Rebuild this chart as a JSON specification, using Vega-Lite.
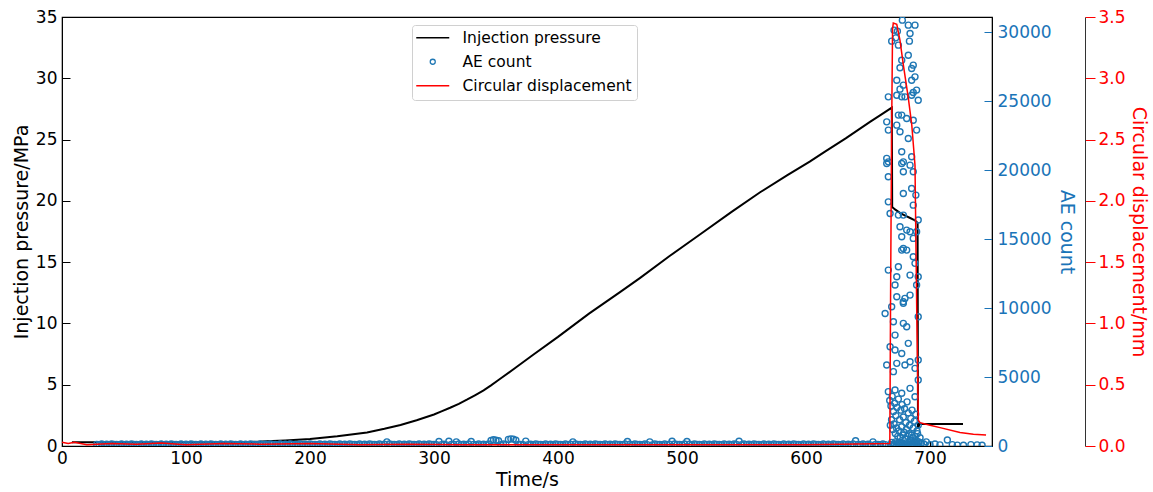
{
"$schema": "https://vega.github.io/schema/vega-lite/v6.json",
"width": 930, "height": 429,
"autosize": {"type": "none"},
"padding": {"left": 62, "top": 17, "right": 161, "bottom": 46},
"background": "white",
"config": {"font": "DejaVu Sans", "view": {"stroke": "black", "strokeWidth": 1.2}, "axis": {"grid": false, "labelFont": "DejaVu Sans", "titleFont": "DejaVu Sans", "titleFontWeight": "normal", "labelFlush": false, "labelOverlap": false}},
"datasets": {
"pressure": [{"t":8,"p":0.3},{"t":30,"p":0.3},{"t":60,"p":0.3},{"t":100,"p":0.31},{"t":130,"p":0.31},{"t":152,"p":0.32},{"t":165,"p":0.38},{"t":180,"p":0.45},{"t":200,"p":0.57},{"t":222,"p":0.8},{"t":246,"p":1.11},{"t":260,"p":1.4},{"t":273,"p":1.71},{"t":286,"p":2.1},{"t":300,"p":2.57},{"t":306,"p":2.82},{"t":313,"p":3.12},{"t":320,"p":3.44},{"t":326.5,"p":3.78},{"t":333,"p":4.14},{"t":340,"p":4.54},{"t":346,"p":4.95},{"t":352,"p":5.38},{"t":366,"p":6.4},{"t":380,"p":7.45},{"t":400,"p":8.9},{"t":425,"p":10.8},{"t":450,"p":12.55},{"t":466,"p":13.7},{"t":490,"p":15.5},{"t":515,"p":17.3},{"t":540,"p":19.1},{"t":563,"p":20.7},{"t":585,"p":22.1},{"t":603,"p":23.2},{"t":615,"p":24.0},{"t":632,"p":25.1},{"t":651.6,"p":26.45},{"t":660,"p":27.0},{"t":669.2,"p":27.6},{"t":669.5,"p":19.5},{"t":671.8,"p":19.3},{"t":676,"p":19.0},{"t":680,"p":18.8},{"t":684,"p":18.6},{"t":688,"p":18.4},{"t":690,"p":18.2},{"t":690.3,"p":1.4},{"t":691.5,"p":1.8},{"t":700,"p":1.8},{"t":726.6,"p":1.8}],
"disp": [{"t":0,"d":0.03},{"t":5,"d":0.02},{"t":10,"d":0.03},{"t":20,"d":0.01},{"t":40,"d":0.02},{"t":60,"d":0.015},{"t":80,"d":0.025},{"t":100,"d":0.01},{"t":130,"d":0.02},{"t":160,"d":0.015},{"t":200,"d":0.02},{"t":240,"d":0.01},{"t":280,"d":0.015},{"t":320,"d":0.01},{"t":400,"d":0.01},{"t":500,"d":0.01},{"t":600,"d":0.01},{"t":667.6,"d":0.02},{"t":668.2,"d":1.2},{"t":669.0,"d":2.5},{"t":669.8,"d":3.4},{"t":670.4,"d":3.45},{"t":673.2,"d":3.44},{"t":675.8,"d":3.31},{"t":678.5,"d":3.11},{"t":682.5,"d":2.84},{"t":685.3,"d":2.62},{"t":687.9,"d":2.29},{"t":689.3,"d":1.11},{"t":690.6,"d":0.21},{"t":691.9,"d":0.19},{"t":700,"d":0.17},{"t":708.1,"d":0.15},{"t":724.2,"d":0.11},{"t":735,"d":0.095},{"t":745.2,"d":0.09}],
"ae": [
{"t":28,"c":120},{"t":30,"c":90},{"t":32,"c":150},{"t":34,"c":100},{"t":36,"c":130},{"t":38,"c":80},{"t":40,"c":140},{"t":42,"c":110},{"t":44,"c":120},{"t":46,"c":90},{"t":48,"c":150},{"t":50,"c":100},{"t":52,"c":130},{"t":54,"c":80},{"t":56,"c":140},{"t":58,"c":110},{"t":60,"c":120},{"t":62,"c":90},{"t":64,"c":150},{"t":66,"c":100},{"t":68,"c":130},{"t":70,"c":80},{"t":72,"c":140},{"t":74,"c":110},{"t":76,"c":120},{"t":78,"c":90},{"t":80,"c":150},{"t":82,"c":100},{"t":84,"c":130},{"t":86,"c":80},{"t":88,"c":140},{"t":90,"c":110},{"t":92,"c":120},{"t":94,"c":90},{"t":96,"c":150},{"t":98,"c":100},{"t":100,"c":130},{"t":102,"c":80},{"t":104,"c":140},{"t":106,"c":110},{"t":108,"c":120},{"t":110,"c":90},{"t":112,"c":150},{"t":114,"c":100},{"t":116,"c":130},{"t":118,"c":80},{"t":120,"c":140},{"t":122,"c":110},{"t":124,"c":120},{"t":126,"c":90},{"t":128,"c":150},{"t":130,"c":100},{"t":132,"c":130},{"t":134,"c":80},{"t":136,"c":140},{"t":138,"c":110},{"t":140,"c":120},{"t":142,"c":90},{"t":144,"c":150},{"t":146,"c":100},{"t":148,"c":130},{"t":150,"c":80},{"t":152,"c":140},{"t":154,"c":110},{"t":156,"c":120},{"t":158,"c":90},{"t":160,"c":150},{"t":162,"c":100},{"t":164,"c":130},{"t":166,"c":80},{"t":168,"c":140},{"t":170,"c":110},{"t":172,"c":120},{"t":174,"c":90},{"t":176,"c":150},{"t":178,"c":100},{"t":180,"c":130},{"t":182,"c":80},{"t":184,"c":140},{"t":186,"c":110},{"t":188,"c":120},{"t":190,"c":90},{"t":192,"c":150},{"t":194,"c":100},{"t":196,"c":130},{"t":198,"c":80},{"t":200,"c":140},{"t":202,"c":110},{"t":204,"c":120},{"t":206,"c":90},{"t":208,"c":150},{"t":210,"c":100},{"t":212,"c":130},{"t":214,"c":80},{"t":216,"c":140},{"t":218,"c":110},{"t":220,"c":120},{"t":222,"c":90},{"t":224,"c":150},{"t":226,"c":100},{"t":228,"c":130},{"t":230,"c":80},{"t":232,"c":140},{"t":234,"c":110},{"t":236,"c":120},{"t":238,"c":90},{"t":240,"c":150},{"t":242,"c":100},{"t":244,"c":130},{"t":246,"c":80},{"t":248,"c":140},{"t":250,"c":110},{"t":252,"c":120},{"t":254,"c":90},{"t":256,"c":150},{"t":258,"c":100},{"t":260,"c":130},{"t":262,"c":300},{"t":264,"c":140},{"t":266,"c":110},{"t":268,"c":120},{"t":270,"c":90},{"t":272,"c":150},{"t":274,"c":100},{"t":276,"c":130},{"t":278,"c":80},{"t":280,"c":140},{"t":282,"c":110},{"t":284,"c":120},{"t":286,"c":90},{"t":288,"c":150},{"t":290,"c":100},{"t":292,"c":130},{"t":294,"c":80},{"t":296,"c":140},{"t":298,"c":110},{"t":300,"c":120},{"t":302,"c":90},{"t":304,"c":330},{"t":306,"c":100},{"t":308,"c":130},{"t":310,"c":80},{"t":312,"c":340},{"t":314,"c":110},{"t":316,"c":120},{"t":318,"c":300},{"t":320,"c":150},{"t":322,"c":100},{"t":324,"c":130},{"t":326,"c":80},{"t":328,"c":140},{"t":330,"c":330},{"t":332,"c":120},{"t":334,"c":90},{"t":336,"c":150},{"t":338,"c":100},{"t":340,"c":130},{"t":342,"c":80},{"t":344,"c":140},{"t":346,"c":400},{"t":348,"c":450},{"t":350,"c":420},{"t":352,"c":380},{"t":354,"c":90},{"t":356,"c":150},{"t":358,"c":100},{"t":360,"c":480},{"t":362,"c":520},{"t":364,"c":500},{"t":366,"c":420},{"t":368,"c":110},{"t":370,"c":120},{"t":372,"c":90},{"t":374,"c":350},{"t":376,"c":100},{"t":378,"c":130},{"t":380,"c":80},{"t":382,"c":140},{"t":384,"c":110},{"t":386,"c":120},{"t":388,"c":90},{"t":390,"c":150},{"t":392,"c":100},{"t":394,"c":130},{"t":396,"c":80},{"t":398,"c":140},{"t":400,"c":110},{"t":402,"c":120},{"t":404,"c":90},{"t":406,"c":150},{"t":408,"c":100},{"t":410,"c":130},{"t":412,"c":300},{"t":414,"c":140},{"t":416,"c":110},{"t":418,"c":120},{"t":420,"c":90},{"t":422,"c":150},{"t":424,"c":100},{"t":426,"c":130},{"t":428,"c":80},{"t":430,"c":140},{"t":432,"c":110},{"t":434,"c":120},{"t":436,"c":90},{"t":438,"c":150},{"t":440,"c":100},{"t":442,"c":130},{"t":444,"c":80},{"t":446,"c":140},{"t":448,"c":110},{"t":450,"c":120},{"t":452,"c":90},{"t":454,"c":150},{"t":456,"c":330},{"t":458,"c":130},{"t":460,"c":80},{"t":462,"c":140},{"t":464,"c":110},{"t":466,"c":120},{"t":468,"c":90},{"t":470,"c":150},{"t":472,"c":100},{"t":474,"c":300},{"t":476,"c":80},{"t":478,"c":140},{"t":480,"c":110},{"t":482,"c":120},{"t":484,"c":90},{"t":486,"c":150},{"t":488,"c":100},{"t":490,"c":130},{"t":492,"c":340},{"t":494,"c":140},{"t":496,"c":110},{"t":498,"c":120},{"t":500,"c":90},{"t":502,"c":150},{"t":504,"c":330},{"t":506,"c":130},{"t":508,"c":80},{"t":510,"c":140},{"t":512,"c":110},{"t":514,"c":120},{"t":516,"c":90},{"t":518,"c":150},{"t":520,"c":100},{"t":522,"c":130},{"t":524,"c":80},{"t":526,"c":140},{"t":528,"c":110},{"t":530,"c":120},{"t":532,"c":90},{"t":534,"c":150},{"t":536,"c":100},{"t":538,"c":130},{"t":540,"c":80},{"t":542,"c":140},{"t":544,"c":110},{"t":546,"c":340},{"t":548,"c":90},{"t":550,"c":150},{"t":552,"c":100},{"t":554,"c":130},{"t":556,"c":80},{"t":558,"c":140},{"t":560,"c":110},{"t":562,"c":120},{"t":564,"c":90},{"t":566,"c":150},{"t":568,"c":100},{"t":570,"c":130},{"t":572,"c":80},{"t":574,"c":140},{"t":576,"c":110},{"t":578,"c":120},{"t":580,"c":90},{"t":582,"c":150},{"t":584,"c":100},{"t":586,"c":130},{"t":588,"c":80},{"t":590,"c":140},{"t":592,"c":110},{"t":594,"c":120},{"t":596,"c":90},{"t":598,"c":150},{"t":600,"c":100},{"t":602,"c":130},{"t":604,"c":80},{"t":606,"c":140},{"t":608,"c":110},{"t":610,"c":120},{"t":612,"c":90},{"t":614,"c":150},{"t":616,"c":100},{"t":618,"c":130},{"t":620,"c":80},{"t":622,"c":140},{"t":624,"c":110},{"t":626,"c":120},{"t":628,"c":90},{"t":630,"c":150},{"t":632,"c":100},{"t":634,"c":130},{"t":636,"c":80},{"t":638,"c":140},{"t":640,"c":380},{"t":642,"c":120},{"t":644,"c":90},{"t":646,"c":150},{"t":648,"c":100},{"t":650,"c":130},{"t":652,"c":80},{"t":654,"c":300},{"t":656,"c":110},{"t":658,"c":120},{"t":660,"c":90},{"t":662,"c":150},{"t":664,"c":100},
{"t":677.7,"c":30870},{"t":682.5,"c":30510},{"t":687.9,"c":30510},{"t":671.0,"c":30145},{"t":673.7,"c":30070},{"t":683.9,"c":29900},{"t":672.4,"c":29590},{"t":669.1,"c":29350},{"t":683.4,"c":29350},{"t":674.5,"c":29060},{"t":682.5,"c":28330},{"t":677.2,"c":27970},{"t":686.5,"c":27610},{"t":675.8,"c":27420},{"t":685.2,"c":27370},{"t":687.9,"c":26760},{"t":673.2,"c":26520},{"t":685.2,"c":26520},{"t":678.5,"c":26160},{"t":689.2,"c":25800},{"t":666.4,"c":25310},{"t":673.2,"c":25430},{"t":677.2,"c":25310},{"t":679.8,"c":25310},{"t":685.2,"c":25430},{"t":690.5,"c":25070},{"t":675.8,"c":25870},{"t":686.5,"c":25630},{"t":674.5,"c":23990},{"t":677.2,"c":23990},{"t":681.2,"c":23740},{"t":686.5,"c":23620},{"t":665.1,"c":23500},{"t":666.4,"c":22900},{"t":673.2,"c":23260},{"t":675.8,"c":22780},{"t":689.2,"c":22900},{"t":682.5,"c":22290},{"t":677.2,"c":21330},{"t":665.1,"c":20850},{"t":666.4,"c":20600},{"t":685.2,"c":20970},{"t":678.5,"c":20600},
{"t":665.1,"c":20480},{"t":677.2,"c":20480},{"t":683.9,"c":20360},{"t":666.4,"c":19520},{"t":678.5,"c":19880},{"t":686.5,"c":19880},{"t":685.2,"c":18670},{"t":688.6,"c":18190},{"t":678.5,"c":18310},{"t":666.4,"c":17700},{"t":686.5,"c":17460},{"t":667.8,"c":16860},{"t":674.5,"c":16740},{"t":678.5,"c":16740},{"t":690.5,"c":16380},{"t":675.8,"c":15890},{"t":681.2,"c":15650},{"t":683.9,"c":15530},{"t":689.2,"c":15530},{"t":677.2,"c":15170},{"t":686.5,"c":15050},{"t":678.5,"c":14320},{"t":677.2,"c":14200},{"t":681.2,"c":14200},{"t":686.5,"c":13720},{"t":687.9,"c":13240},{"t":666.4,"c":12750},{"t":674.5,"c":12990},{"t":673.2,"c":12270},{"t":683.9,"c":12390},{"t":690.5,"c":12270},{"t":671.8,"c":11670},{"t":689.2,"c":11670},{"t":673.2,"c":10820},{"t":679.8,"c":10700},{"t":683.9,"c":10940},{"t":678.5,"c":10340},{"t":669.1,"c":10100},
{"t":678.5,"c":10460},{"t":690.5,"c":9370},{"t":663.8,"c":9610},{"t":670.5,"c":9010},{"t":678.5,"c":8890},{"t":671.8,"c":8040},{"t":681.2,"c":8650},{"t":682.5,"c":7440},{"t":667.8,"c":7200},{"t":671.8,"c":6960},{"t":677.2,"c":6710},{"t":683.9,"c":6110},{"t":690.5,"c":6230},{"t":665.1,"c":5870},{"t":673.2,"c":5990},{"t":679.8,"c":5870},{"t":687.9,"c":5630},{"t":670.5,"c":5390},{"t":690.5,"c":4780},{"t":683.9,"c":4180},{"t":671.8,"c":4060},{"t":666.4,"c":3940},{"t":677.2,"c":3820},{"t":687.9,"c":3570},
{"t":667.5,"c":3300},{"t":668.5,"c":2900},{"t":669.5,"c":3600},{"t":670.5,"c":2500},{"t":671.5,"c":3100},{"t":672.5,"c":2200},{"t":673.5,"c":2800},{"t":674.5,"c":3400},{"t":675.5,"c":1900},{"t":676.5,"c":2600},{"t":677.5,"c":3000},{"t":678.5,"c":2100},{"t":679.5,"c":2700},{"t":680.5,"c":1700},{"t":681.5,"c":3200},{"t":682.5,"c":2400},{"t":683.5,"c":1500},{"t":684.5,"c":2000},{"t":685.5,"c":2600},{"t":686.5,"c":1300},{"t":687.5,"c":1800},{"t":688.5,"c":2300},{"t":689.5,"c":1100},{"t":690.5,"c":1500},
{"t":668,"c":1500},{"t":669,"c":1900},{"t":670,"c":1200},{"t":671,"c":1600},{"t":672,"c":900},{"t":673,"c":1300},{"t":674,"c":700},{"t":675,"c":1100},{"t":676,"c":600},{"t":677,"c":1400},{"t":678,"c":800},{"t":679,"c":1000},{"t":680,"c":500},{"t":681,"c":1200},{"t":682,"c":700},{"t":683,"c":900},{"t":684,"c":400},{"t":685,"c":800},{"t":686,"c":600},{"t":687,"c":300},{"t":688,"c":700},{"t":689,"c":400},{"t":690,"c":900},{"t":691,"c":300},
{"t":668.2,"c":100},{"t":669.2,"c":250},{"t":670.2,"c":50},{"t":671.2,"c":150},{"t":672.2,"c":300},{"t":673.2,"c":80},{"t":674.2,"c":200},{"t":675.2,"c":120},{"t":676.2,"c":260},{"t":677.2,"c":50},{"t":678.2,"c":180},{"t":679.2,"c":90},{"t":680.2,"c":220},{"t":681.2,"c":60},{"t":682.2,"c":150},{"t":683.2,"c":240},{"t":684.2,"c":70},{"t":685.2,"c":190},{"t":686.2,"c":110},{"t":687.2,"c":40},{"t":688.2,"c":210},{"t":689.2,"c":130},{"t":690.2,"c":60},{"t":691.2,"c":170},
{"t":692,"c":600},{"t":693,"c":200},{"t":695,"c":150},{"t":697,"c":300},{"t":700,"c":100},{"t":704,"c":150},{"t":708,"c":80},{"t":714,"c":430},{"t":718,"c":100},{"t":722,"c":60},{"t":727,"c":50},{"t":733,"c":100},{"t":738,"c":80},{"t":742,"c":50}
]
},
"layer": [
{"data": {"name": "pressure"},
 "mark": {"type": "line", "strokeWidth": 2},
 "encoding": {
  "x": {"field": "t", "type": "quantitative", "scale": {"domain": [0, 750], "nice": false},
   "axis": {"title": "Time/s", "titleFontSize": 19, "titleColor": "black", "titlePadding": 4, "values": [0,100,200,300,400,500,600,700], "format": "d", "labelFontSize": 17, "labelColor": "black", "tickSize": -5, "tickColor": "black", "domainColor": "black", "labelPadding": 9}},
  "y": {"field": "p", "type": "quantitative", "scale": {"domain": [0, 35], "nice": false},
   "axis": {"orient": "left", "title": "Injection pressure/MPa", "titleFontSize": 19, "titleColor": "black", "titlePadding": 4, "values": [0,5,10,15,20,25,30,35], "format": "d", "labelFontSize": 17, "labelColor": "black", "tickSize": -8, "tickColor": "black", "domainColor": "black", "labelPadding": 13}},
  "color": {"datum": "Injection pressure", "type": "nominal",
   "scale": {"domain": ["Injection pressure", "AE count", "Circular displacement"], "range": ["black", "#1f77b4", "red"]},
   "legend": {"orient": "none", "legendX": 350, "legendY": 8, "title": null, "labelFontSize": 15.5, "labelFont": "DejaVu Sans", "labelColor": "black", "labelLimit": 400, "symbolType": "stroke", "symbolSize": 1089, "symbolStrokeWidth": 1.5, "symbolOffset": 8, "strokeColor": "#d0d0d0", "fillColor": "white", "cornerRadius": 3, "padding": 5, "rowPadding": 7, "labelOffset": 22,
    "encode": {"symbols": {"update": {"shape": {"signal": "datum.value === 'AE count' ? 'circle' : 'stroke'"}, "size": {"signal": "datum.value === 'AE count' ? 25 : 1089"}, "fill": {"value": "transparent"}, "opacity": {"value": 1}, "strokeWidth": {"signal": "datum.value === 'AE count' ? 1.3 : 1.5"}}}}}}
 }},
{"data": {"name": "ae"},
 "mark": {"type": "point", "filled": false, "size": 36, "strokeWidth": 1.4, "opacity": 1, "clip": true},
 "encoding": {
  "x": {"field": "t", "type": "quantitative"},
  "y": {"field": "c", "type": "quantitative", "scale": {"domain": [0, 31100], "nice": false},
   "axis": {"orient": "right", "title": "AE count", "titleFontSize": 19, "titleColor": "#1a74b8", "titlePadding": 5, "values": [0,5000,10000,15000,20000,25000,30000], "format": "d", "labelFontSize": 17, "labelColor": "#1a74b8", "tickSize": -8, "tickColor": "#1a74b8", "domainColor": "black", "labelPadding": 13}},
  "color": {"datum": "AE count", "type": "nominal"}
 }},
{"data": {"name": "disp"},
 "mark": {"type": "line", "strokeWidth": 1.5},
 "encoding": {
  "x": {"field": "t", "type": "quantitative"},
  "y": {"field": "d", "type": "quantitative", "scale": {"domain": [0, 3.5], "nice": false},
   "axis": {"orient": "right", "offset": 93, "title": "Circular displacement/mm", "titleFontSize": 19, "titleColor": "red", "titlePadding": 3, "values": [0,0.5,1,1.5,2,2.5,3,3.5], "format": ".1f", "labelFontSize": 17, "labelColor": "red", "tickSize": 10, "tickColor": "red", "domainColor": "#333333", "labelPadding": 3}},
  "color": {"datum": "Circular displacement", "type": "nominal"}
 }}
],
"resolve": {"scale": {"y": "independent"}}
}
